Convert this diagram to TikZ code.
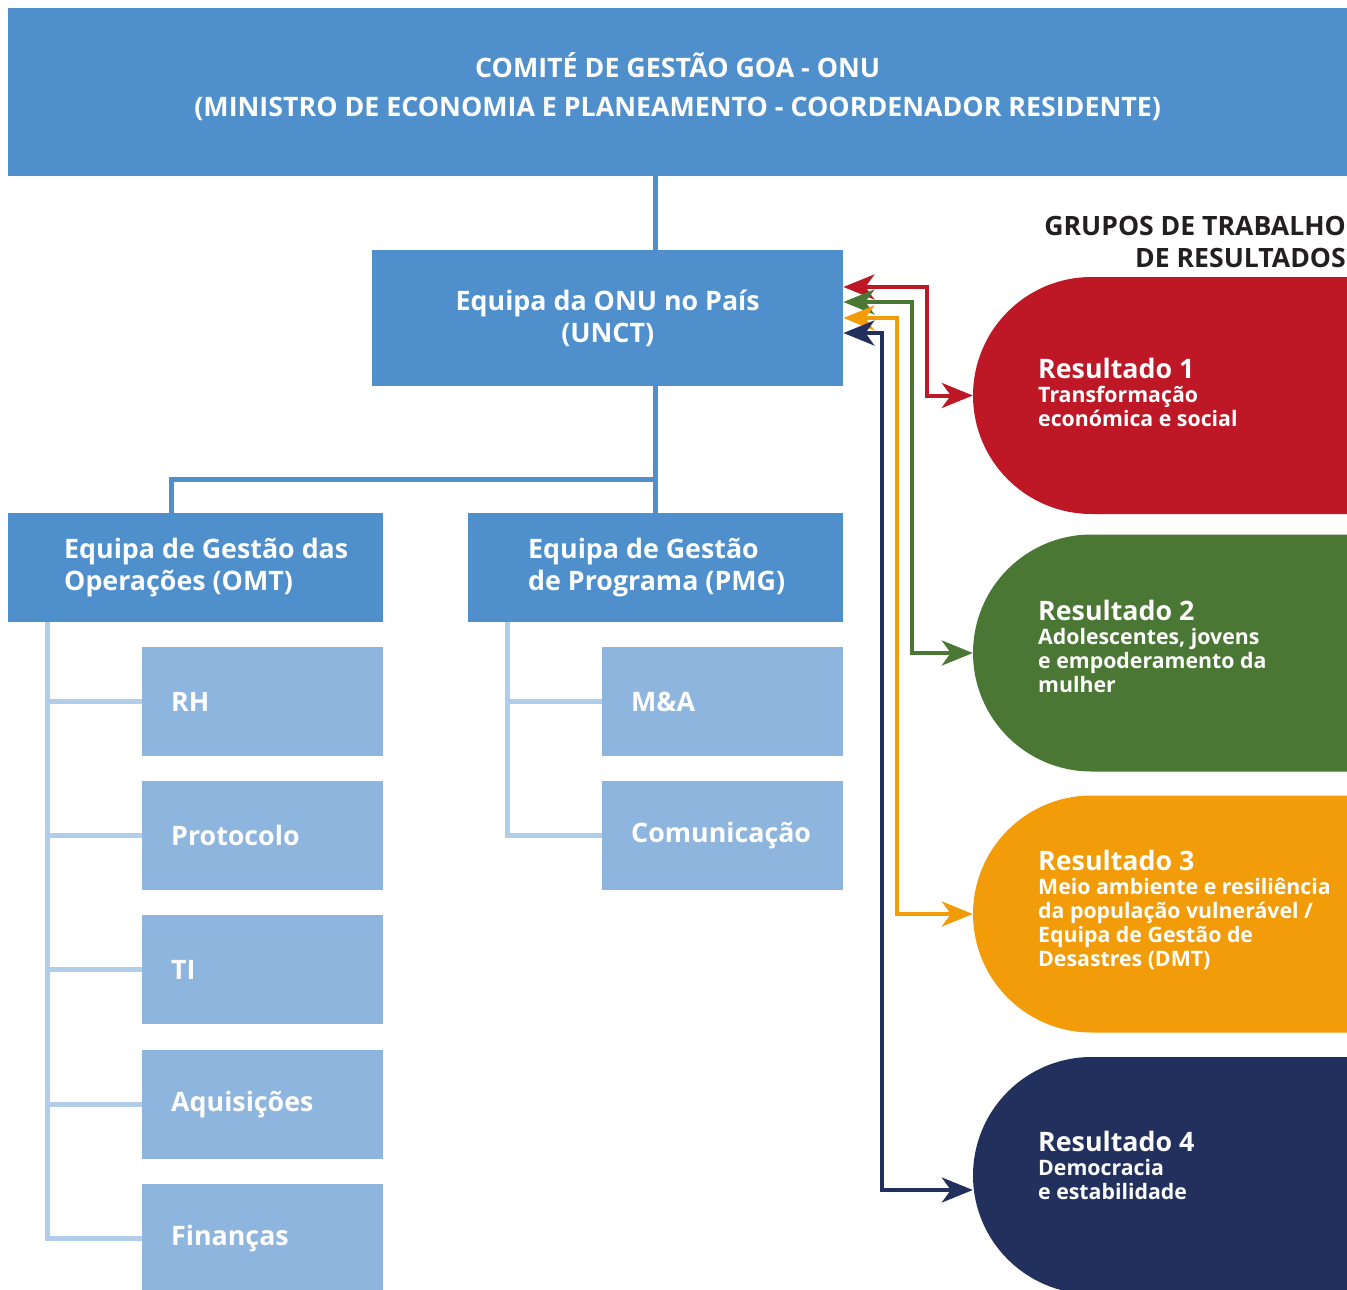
\documentclass[tikz,border=0pt]{standalone}
\usepackage{fontspec}
\setmainfont{Open Sans}
\usetikzlibrary{arrows.meta,shapes.misc}

\definecolor{onublue}{HTML}{4F8FCB}
\definecolor{subblue}{HTML}{8DB5DD}
\definecolor{treeblue}{HTML}{B0CDE9}
\definecolor{resred}{HTML}{BE1827}
\definecolor{resgreen}{HTML}{4A7733}
\definecolor{resorange}{HTML}{F29C0A}
\definecolor{resnavy}{HTML}{22305E}
\definecolor{headgray}{HTML}{231F20}

\begin{document}
\begin{tikzpicture}[x=1pt, y=-1pt, >={Stealth[length=31pt,width=25pt,inset=9pt]},
  mainbox/.style={fill=onublue, text=white, inner sep=0pt, anchor=north west, align=center,
    font=\bfseries\fontsize{26.8}{32}\selectfont},
  teambox/.style={mainbox, minimum width=375pt, minimum height=109pt},
  teamtext/.style={text=white, anchor=west, align=left, inner sep=0pt,
    font=\bfseries\fontsize{26.8}{32}\selectfont},
  subbox/.style={fill=subblue, text=white, inner xsep=29pt, inner ysep=0pt, anchor=north west,
    minimum height=109pt, text width=183pt, align=left, font=\bfseries\fontsize{26.8}{30}\selectfont},
  result/.style={fill=#1, rounded rectangle, rounded rectangle right arc=none,
    minimum height=237pt, minimum width=374pt, inner sep=0pt},
  restext/.style={text=white, anchor=west, align=left, inner sep=0pt,
    font=\bfseries\fontsize{21.3}{24}\selectfont},
  trunk/.style={draw=onublue, line width=5pt},
  tree/.style={draw=treeblue, line width=5pt},
  resarrow/.style={draw=#1, line width=4pt, <->}]
\useasboundingbox (0,0) rectangle (1347,1290);

% top level and country team
\node[mainbox, minimum width=1339pt, minimum height=168pt] (comite) at (8,8) {};
\node[text=white, align=center, inner sep=0pt, font=\bfseries\fontsize{26.8}{39}\selectfont]
  (comitetxt) at ([yshift=5.5pt]comite.center)
  {COMITÉ DE GESTÃO GOA - ONU\\(MINISTRO DE ECONOMIA E PLANEAMENTO - COORDENADOR RESIDENTE)};
\node[mainbox, minimum width=471pt, minimum height=136pt] (unct) at (372,250)
  {Equipa da ONU no País\\(UNCT)};

% management teams
\node[teambox] (omt) at (8,513) {};
\node[teamtext] (omttxt) at ([xshift=56pt]omt.west) {Equipa de Gestão das\\Operações (OMT)};
\node[teambox] (pmg) at (468,513) {};
\node[teamtext] (pmgtxt) at ([xshift=60pt]pmg.west) {Equipa de Gestão\\de Programa (PMG)};

\node[subbox] (rh) at (142,647) {RH};
\node[subbox] (proto) at (142,781) {Protocolo};
\node[subbox] (ti) at (142,915) {TI};
\node[subbox] (aqui) at (142,1050) {Aquisições};
\node[subbox] (fin) at (142,1184) {Finanças};

\node[subbox] (mea) at (602,647) {M\&A};
\node[subbox] (comu) at (602,781) {Comunicação};

% hierarchy lines
\draw[trunk] (comite.south -| pmg.north) -- (unct.north -| pmg.north);
\draw[trunk] (unct.south -| pmg.north) -- (pmg.north);
\coordinate (split) at (pmg.north |- 0,479);
\draw[trunk] (split) -| ([xshift=-24.5pt]omt.north);

\draw[tree] (omt.south -| 47,0) |- (fin.west);
\foreach \b in {rh,proto,ti,aqui}
  \draw[tree] (\b.west -| 47,0) -- (\b.west);
\draw[tree] (pmg.south -| 507,0) |- (comu.west);
\draw[tree] (mea.west -| 507,0) -- (mea.west);

% results groups
\node[text=headgray, anchor=north east, align=right, inner sep=0pt,
  font=\bfseries\fontsize{26.6}{32}\selectfont] (grupos) at (1346,216)
  {GRUPOS DE TRABALHO\\DE RESULTADOS};

\node[result=resred] (r1) at (1160,395.5) {};
\node[result=resgreen] (r2) at (1160,653) {};
\node[result=resorange] (r3) at (1160,914) {};
\node[result=resnavy] (r4) at (1160,1175.5) {};

\node[restext] (r1t) at (1038,392)
  {{\fontsize{26.8}{30}\selectfont Resultado 1}\\Transformação\\económica e social};
\node[restext] (r2t) at (1038,646)
  {{\fontsize{26.8}{30}\selectfont Resultado 2}\\Adolescentes, jovens\\e empoderamento da\\mulher};
\node[restext] (r3t) at (1038,910)
  {{\fontsize{26.8}{30}\selectfont Resultado 3}\\Meio ambiente e resiliência\\da população vulnerável /\\Equipa de Gestão de\\Desastres (DMT)};
\node[restext] (r4t) at (1038,1165)
  {{\fontsize{26.8}{30}\selectfont Resultado 4}\\Democracia\\e estabilidade};

% links between the country team and the groups
\draw[resarrow=resred] (unct.east |- 0,287) -| (927,0 |- r1.west) -- (r1.west);
\draw[resarrow=resgreen] (unct.east |- 0,302) -| (912,0 |- r2.west) -- (r2.west);
\draw[resarrow=resorange] (unct.east |- 0,318) -| (897,0 |- r3.west) -- (r3.west);
\draw[resarrow=resnavy] (unct.east |- 0,333) -| (882,1190) -- ([yshift=-14.5pt]r4.west);
\end{tikzpicture}
\end{document}
